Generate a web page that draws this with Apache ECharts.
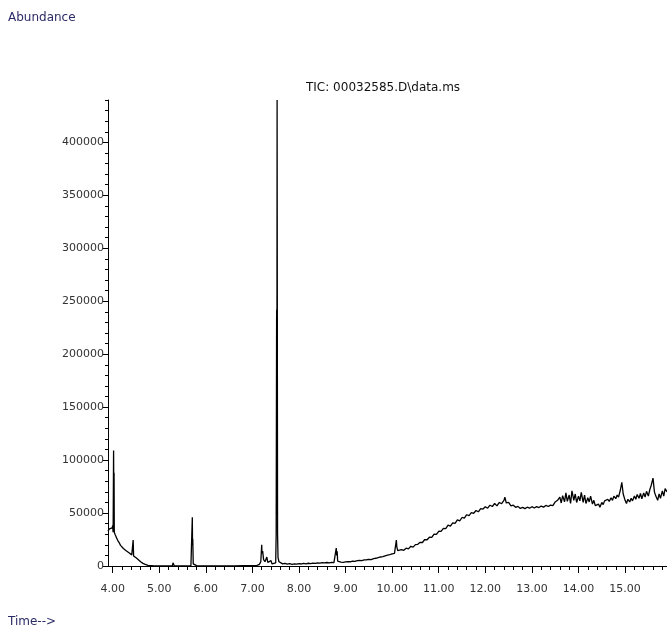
<!DOCTYPE html>
<html>
<head>
<meta charset="utf-8">
<script src="https://cdn.jsdelivr.net/npm/echarts@6/dist/echarts.min.js"></script>
<style>html,body{margin:0;padding:0;background:#fff;}#chart{width:667px;height:629px;}</style>
</head>
<body>
<div id="chart"></div>
<script>
var retentionTime = [
3.90,3.93,3.96,3.99,4.00,4.01,4.02,4.025,4.03,4.035,4.05,4.08,4.11,4.14,4.17,4.20,4.23,4.26,4.29,4.32,4.35,4.38,4.41,4.43,4.44,4.45,4.48,4.51,4.55,4.60,4.65,4.70,4.76,4.80,4.90,5.00,5.10,5.20,5.28,5.30,5.32,5.40,5.50,5.60,5.68,5.70,5.71,5.715,5.72,5.73,5.76,5.80,5.90,6.00,6.20,6.40,6.60,6.80,7.00,7.10,7.15,7.18,7.20,7.205,7.22,7.24,7.27,7.31,7.33,7.36,7.40,7.42,7.46,7.50,7.51,7.52,7.525,7.53,7.54,7.55,7.57,7.60,7.65,7.70,
7.75,7.80,7.85,7.90,7.95,8.00,8.05,8.10,8.15,8.20,8.25,8.30,8.35,8.40,8.45,8.50,8.55,8.60,8.65,8.70,8.75,8.79,8.80,8.81,8.82,8.83,8.86,8.90,8.95,9.00,9.05,9.10,9.15,9.20,9.25,9.30,9.35,9.40,9.45,9.50,9.55,9.60,9.65,9.70,9.75,9.80,9.85,9.90,9.95,10.00,10.05,10.08,10.09,10.10,10.12,10.15,10.20,10.25,10.30,10.35,10.40,10.45,10.50,10.55,10.60,10.65,10.70,10.75,10.80,10.85,10.90,10.95,11.00,11.05,11.10,11.15,11.20,11.25,11.30,11.35,11.40,11.45,11.50,11.55,11.60,11.65,11.70,11.75,11.80,11.85,11.90,11.95,12.00,12.05,12.10,12.15,12.20,12.25,12.30,12.35,12.40,12.42,12.45,12.50,12.55,12.60,12.65,12.70,12.75,12.80,12.85,12.90,12.95,13.00,13.05,13.10,13.15,13.20,13.25,13.30,13.35,13.40,13.45,13.50,13.55,13.60,13.63,13.66,13.70,13.73,13.76,13.80,13.83,13.86,13.90,13.93,13.96,14.00,14.03,14.06,14.10,14.13,14.16,14.20,14.23,14.26,14.30,14.33,14.36,14.40,14.43,14.46,14.50,14.53,14.56,14.60,14.63,14.66,14.70,14.73,14.76,14.80,14.83,14.86,14.90,14.93,14.96,15.00,15.03,15.06,15.10,15.13,15.16,15.20,15.23,15.26,15.30,15.33,15.36,15.40,15.43,15.46,15.50,15.53,15.56,15.60,15.63,15.66,15.70,15.73,15.76,15.80,15.83,15.86,15.90
];
var abundance = [
33000,35000,34000,36000,38000,32000,109000,60000,88000,32000,30000,27000,24000,22000,19500,18000,16500,15500,14500,13500,12500,11500,10500,10000,24500,9500,8500,7500,6000,4000,2500,1500,500,200,100,200,100,150,300,3000,200,150,200,150,300,1500,46000,20000,25500,2000,500,300,200,150,200,150,200,250,300,600,1500,4000,20000,12000,14000,6000,4000,8500,3500,2500,5000,2000,1500,3000,30000,242000,100000,440000,30000,8000,4000,2500,2000,2500,
1800,2200,1600,2000,1800,2200,1900,2400,2100,2600,2300,2800,2500,3000,2700,3100,2900,3300,3000,3400,3200,3500,17000,10000,14000,4500,3500,3700,3400,3900,4200,4000,4600,4400,5000,5200,5000,5700,5900,6300,6100,7000,7300,7900,8500,8800,9600,10200,10800,11500,12000,13500,24500,18000,14500,
14000,15500,14800,16800,16200,18600,17800,20200,20500,22400,22200,25000,24800,27200,27000,30200,29800,32800,32600,35500,35200,38500,37600,40800,40200,43500,42600,45800,45200,48400,47600,50400,49800,52400,51200,54200,53800,56000,54600,57400,56200,59000,56800,60000,58800,62000,65000,59500,60000,56800,57400,55400,56300,54400,55400,54200,55500,54600,56000,54800,56000,55200,56600,55600,57200,56200,57500,57000,
60500,62000,65000,59500,66500,60500,69000,61000,67000,59000,71000,62000,68000,60000,66000,61500,69500,60000,67000,59000,64500,60500,66000,58500,62000,57000,56000,58500,55500,60000,58000,61500,60000,63000,61000,64500,62000,66000,63500,67000,65000,72000,79000,68000,62000,59000,63000,60500,64000,61500,66000,63000,67500,64000,68500,63500,69000,65000,70500,66000,72000,76000,83000,70000,66000,62000,68000,64000,71000,66000,73000,70000
];
var xTickLabels = [4,5,6,7,8,9,10,11,12,13,14,15];
var yTickLabels = [0,50000,100000,150000,200000,250000,300000,350000,400000];

var xMinor = [];
for (var i = 0; i < xTickLabels.length; i++) {
  for (var k = 0; k < 5; k++) {
    var v = Math.round((xTickLabels[i] + k * 0.2) * 10) / 10;
    if (v <= 15.9) xMinor.push(v);
  }
}
var yMinor = [];
for (var j = 0; j <= 440000; j += 10000) yMinor.push(j);

var seriesData = retentionTime.map(function (t, idx) { return [t, abundance[idx]]; });

var chart = echarts.init(document.getElementById('chart'), null, {renderer: 'canvas'});
var labelFont = {fontFamily: 'DejaVu Sans, Verdana, sans-serif', fontSize: 11, color: '#333'};
chart.setOption({
  animation: false,
  backgroundColor: '#fff',
  grid: [{left: 108, top: 100, right: 0, bottom: 63}],
  xAxis: [{
    type: 'value', min: 3.9, max: 15.9, gridIndex: 0,
    axisLine: {show: true, onZero: false, lineStyle: {color: '#000', width: 1}},
    axisTick: {show: true, length: 7, customValues: xTickLabels, lineStyle: {color: '#000'}},
    axisLabel: Object.assign({customValues: xTickLabels, margin: 18, formatter: function (v) { return v.toFixed(2); }}, labelFont),
    splitLine: {show: false}
  }, {
    type: 'value', min: 3.9, max: 15.9, gridIndex: 0, position: 'bottom',
    axisLine: {show: false},
    axisTick: {show: true, length: 4, customValues: xMinor, lineStyle: {color: '#000'}},
    axisLabel: {show: false},
    splitLine: {show: false}
  }],
  yAxis: [{
    type: 'value', min: 0, max: 440000, gridIndex: 0,
    axisLine: {show: true, onZero: false, lineStyle: {color: '#000', width: 1}},
    axisTick: {show: true, length: 5, customValues: yTickLabels, lineStyle: {color: '#000'}},
    axisLabel: Object.assign({customValues: yTickLabels, margin: 4, formatter: function (v) { return String(v); }}, labelFont),
    splitLine: {show: false}
  }, {
    type: 'value', min: 0, max: 440000, gridIndex: 0, position: 'left',
    axisLine: {show: false},
    axisTick: {show: true, length: 3, customValues: yMinor, lineStyle: {color: '#000'}},
    axisLabel: {show: false},
    splitLine: {show: false}
  }],
  graphic: [
    {type: 'text', left: 8, top: 12, style: {text: 'Abundance', font: '12px DejaVu Sans, Verdana, sans-serif', fill: '#2b2b66'}},
    {type: 'text', left: 8, top: 616, style: {text: 'Time-->', font: '12px DejaVu Sans, Verdana, sans-serif', fill: '#2b2b66'}},
    {type: 'text', left: 306, top: 82, style: {text: 'TIC: 00032585.D\\data.ms', font: '12px DejaVu Sans, Verdana, sans-serif', fill: '#111'}}
  ],
  series: [{
    type: 'line', xAxisIndex: 0, yAxisIndex: 0,
    data: seriesData, showSymbol: false, symbol: 'none',
    lineStyle: {color: '#000', width: 1.3}, sampling: false
  }]
});
</script>
</body>
</html>
